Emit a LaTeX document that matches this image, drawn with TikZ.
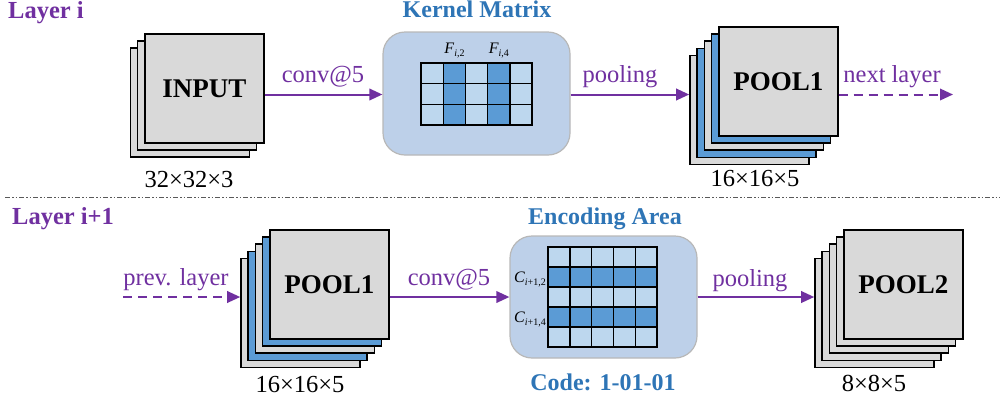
\documentclass[tikz,border=0pt]{standalone}
\usepackage{fontspec}
\setmainfont{Liberation Serif}
\usetikzlibrary{arrows.meta}

\definecolor{flowpurple}{HTML}{7030A0}
\definecolor{titleblue}{HTML}{2E75B6}
\definecolor{panelblue}{HTML}{BDD0E9}
\definecolor{celllight}{HTML}{BDD7EE}
\definecolor{celldark}{HTML}{5B9BD5}
\definecolor{sheetgray}{HTML}{D9D9D9}
\definecolor{sheetblue}{HTML}{5B9BD5}

\tikzset{
  sheet/.style={draw=black, line width=1.6pt, fill=sheetgray, minimum width=119pt,
    minimum height=109pt, anchor=north west, inner sep=0pt,
    font=\fontsize{27}{27}\selectfont\bfseries},
  panel/.style={draw=black!28, line width=1.2pt, fill=panelblue, rounded corners=22pt,
    minimum width=187pt, minimum height=123pt, inner sep=0pt},
  flow/.style={draw=flowpurple, line width=2pt, -{Triangle[length=13pt,width=11.5pt]}},
  flowdash/.style={flow, dash pattern=on 9pt off 6pt},
  lbl/.style={anchor=base, text=flowpurple, font=\fontsize{24.5}{24.5}\selectfont, inner sep=0pt},
  dim/.style={anchor=base, font=\fontsize{24.5}{24.5}\selectfont, inner sep=0pt},
  layertitle/.style={anchor=base west, text=flowpurple,
    font=\fontsize{24.5}{24.5}\selectfont\bfseries, inner sep=0pt},
  boxtitle/.style={anchor=base, text=titleblue, font=\fontsize{24}{24}\selectfont\bfseries, inner sep=0pt},
  idx/.style={font=\fontsize{16}{16}\selectfont, inner sep=0pt},
  cell/.style={draw=black, line width=1.4pt},
  sep/.style={draw=black!65, line width=1.3pt,
    dash pattern=on 5pt off 2pt on 1.5pt off 2pt on 1.5pt off 2pt},
}

% feature-map stack: name, front x, front y, back layers (index/colour, back to front), text
\newcommand\sheetstack[5]{%
  \foreach \k/\shc in {#4}{%
    \node[sheet, fill=\shc] (#1-\k) at (#2-\k*7.2, #3+\k*7.2) {};
  }
  \node[sheet] (#1) at (#2,#3) {#5};
}
\newcommand\subidx[1]{\raisebox{-3.5pt}{\fontsize{10}{10}\selectfont #1}}

\begin{document}
\begin{tikzpicture}[x=1pt, y=-1pt]
  \useasboundingbox (0,0) rectangle (1002,400);

  \coordinate (rowA) at (0,94.5);
  \coordinate (rowB) at (0,297);

  % ---------- layer i ----------
  \node[layertitle] (ttlA) at (8,18.5) {Layer i};

  \sheetstack{inA}{144}{33}{2/sheetgray,1/sheetgray}{INPUT}
  \node[dim] (dimA) at (189,187) {32×32×3};

  \node[panel] (kernel) at (476.5,93.5) {};
  \node[boxtitle] (kttl) at (477,17) {Kernel Matrix};
  \foreach \ci in {0,...,4}{
    \foreach \ri in {0,1,2}{
      \ifodd\ci\def\cellcol{celldark}\else\def\cellcol{celllight}\fi
      \draw[cell, fill=\cellcol] (421+\ci*22.2, 63+\ri*20.7) rectangle ++(22.2,20.7);
    }
  }
  \node[idx, anchor=base] (f2) at (454.5,53) {\textit{F}\subidx{\textit{i},2}};
  \node[idx, anchor=base] (f4) at (498.9,53) {\textit{F}\subidx{\textit{i},4}};

  \sheetstack{poolA}{718}{26}{4/sheetgray,3/sheetblue,2/sheetgray,1/sheetblue}{POOL1}
  \node[dim] (dimB) at (755,186) {16×16×5};
  \coordinate (nxt) at (953,94.5);

  \draw[flow] (inA.east |- rowA) -- (kernel.west |- rowA);
  \node[lbl] (lc1) at (323,82) {conv@5};
  \draw[flow] (kernel.east |- rowA) -- (poolA-4.west |- rowA);
  \node[lbl] (lp1) at (620,82) {pooling};
  \draw[flowdash] (poolA.east |- rowA) -- (nxt);
  \node[lbl] (lnx) at (892,82) {next layer};

  % ---------- separator ----------
  \draw[sep] (5,197.5) -- (1000,197.5);

  % ---------- layer i+1 ----------
  \node[layertitle] (ttlB) at (12,224) {Layer i+1};

  \coordinate (prv) at (123,297);
  \sheetstack{poolB}{269}{229}{4/sheetgray,3/sheetblue,2/sheetgray,1/sheetblue}{POOL1}
  \node[dim] (dimC) at (300,392) {16×16×5};

  \node[panel, minimum height=122pt] (encode) at (603.5,297) {};
  \node[boxtitle] (ettl) at (605,224) {Encoding Area};
  \node[boxtitle] (code) at (603,390) {Code: 1-01-01};
  \foreach \ci in {0,...,4}{
    \foreach \ri in {0,...,4}{
      \ifodd\ri\def\cellcol{celldark}\else\def\cellcol{celllight}\fi
      \draw[cell, fill=\cellcol] (548+\ci*21.8, 247+\ri*20) rectangle ++(21.8,20);
    }
  }
  \node[idx, anchor=base east] (c2) at (546,282) {\textit{C}\subidx{\textit{i}+1,2}};
  \node[idx, anchor=base east] (c4) at (546,322) {\textit{C}\subidx{\textit{i}+1,4}};

  \sheetstack{poolC}{843}{229}{4/sheetgray,3/sheetgray,2/sheetgray,1/sheetgray}{POOL2}
  \node[dim] (dimD) at (874,391) {8×8×5};

  \draw[flowdash] (prv) -- (poolB-4.west |- rowB);
  \node[lbl] (lpv) at (176,285) {prev. layer};
  \draw[flow] (poolB.east |- rowB) -- (encode.west |- rowB);
  \node[lbl] (lc2) at (449,285) {conv@5};
  \draw[flow] (encode.east |- rowB) -- (poolC-4.west |- rowB);
  \node[lbl] (lp2) at (750,286) {pooling};
\end{tikzpicture}
\end{document}
